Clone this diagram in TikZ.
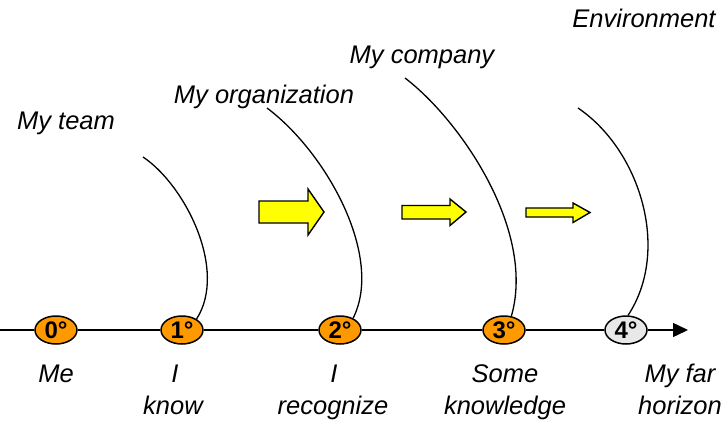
\documentclass[tikz,border=0pt]{standalone}
\usepackage{fontspec}
\setmainfont{Liberation Sans}
\usetikzlibrary{shapes.geometric,arrows.meta}
\definecolor{degorange}{HTML}{FF9900}
\definecolor{deggray}{HTML}{E8E8E8}
\definecolor{arrowyellow}{HTML}{FFFF00}
\tikzset{
  degree/.style={ellipse, draw=black, line width=1.5pt, fill=degorange,
    minimum width=42pt, minimum height=28pt, inner sep=0pt,
    font=\fontsize{24}{26}\selectfont\bfseries},
  lbl/.style={anchor=base, inner sep=0pt, font=\fontsize{25.5}{30}\selectfont\itshape},
  axisline/.style={line width=1.5pt},
  horizonarc/.style={line width=1.3pt},
  bigarrow/.style={draw=black, line width=1.4pt, fill=arrowyellow, line join=miter}
}
\begin{document}
\begin{tikzpicture}[x=1pt,y=-1pt]
\useasboundingbox (0,0) rectangle (723,421);

% degree nodes
\node[degree] (n0) at (56,330) {0°};
\node[degree] (n1) at (182,330) {1°};
\node[degree] (n2) at (340,330) {2°};
\node[degree] (n3) at (504,330) {3°};
\node[degree, fill=deggray] (n4) at (626,330) {4°};

% axis
\coordinate (axL) at (0,330);
\coordinate (axR) at (688,330);
\draw[axisline] (axL) -- (n0);
\draw[axisline] (n0) -- (n1);
\draw[axisline] (n1) -- (n2);
\draw[axisline] (n2) -- (n3);
\draw[axisline] (n3) -- (n4);
\draw[axisline, -{Triangle[length=15pt,width=14pt]}] (n4) -- (axR);

% bottom labels
\node[lbl] (lMe) at (56,382) {Me};
\node[lbl] (lKnowA) at (175,382) {I};
\node[lbl] (lKnowB) at (173,414) {know};
\node[lbl] (lRecA) at (334,382) {I};
\node[lbl] (lRecB) at (333,414) {recognize};
\node[lbl] (lSomeA) at (505,382) {Some};
\node[lbl] (lSomeB) at (505,414) {knowledge};
\node[lbl] (lFarA) at (680,382) {My far};
\node[lbl] (lFarB) at (680,414) {horizon};

% top labels
\node[lbl] (tTeam) at (66,129) {My team};
\node[lbl] (tOrg) at (264,103) {My organization};
\node[lbl] (tComp) at (422,63) {My company};
\node[lbl] (tEnv) at (644,27) {Environment};

% horizon arcs
\coordinate (a1) at (143,157);
\coordinate (a2) at (267,108);
\coordinate (a3) at (405,78);
\coordinate (a4) at (578,108);
\draw[horizonarc] (a1) .. controls (185,185) and (228,270) .. (n1.37);
\draw[horizonarc] (a2) .. controls (327,153) and (384,257) .. (n2.42);
\draw[horizonarc] (a3) .. controls (460,120) and (536,230) .. (n3.62);
\draw[horizonarc] (a4) .. controls (640,150) and (671,250) .. (n4.82);

% yellow arrows
\draw[bigarrow] (259,201) -- (308,201) -- (308,189) -- (324,212) -- (308,235)
  -- (308,223) -- (259,223) -- cycle;
\draw[bigarrow] (402,205.5) -- (450,205.5) -- (450,199) -- (466,212) -- (450,225.5)
  -- (450,219) -- (402,219) -- cycle;
\draw[bigarrow] (526,208) -- (573,208) -- (573,203) -- (590,212.5) -- (573,222.5)
  -- (573,217) -- (526,217) -- cycle;
\end{tikzpicture}
\end{document}
